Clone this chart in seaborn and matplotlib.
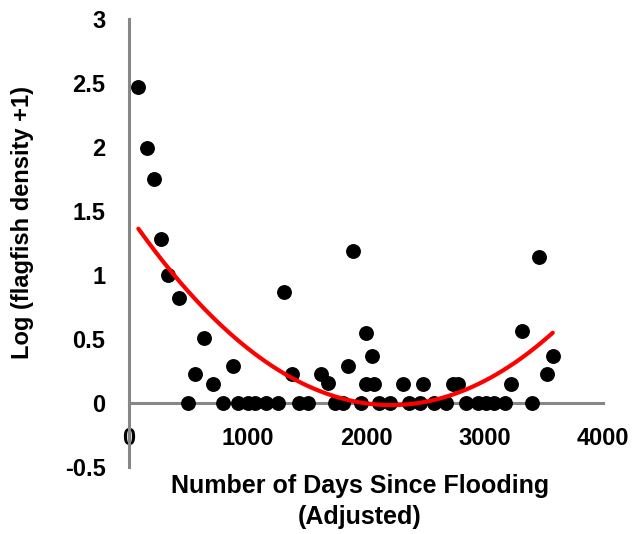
import numpy as np
import pandas as pd
import matplotlib
matplotlib.use("Agg")
import matplotlib.pyplot as plt
import seaborn as sns

days = [79, 155, 214, 270, 326, 422, 495, 560, 636, 706, 796, 881, 923, 1007,
        1063, 1154, 1260, 1308, 1378, 1437, 1513, 1620, 1677, 1739, 1809, 1851,
        1893, 1955, 2000, 2048, 2000, 2065, 2113, 2203, 2315, 2366, 2456, 2484,
        2574, 2675, 2732, 2779, 2844, 2943, 3013, 3083, 3173, 3224, 3320, 3404,
        3460, 3531, 3576]
log_density = [2.47, 1.99, 1.75, 1.28, 1.00, 0.82, 0.0, 0.227, 0.505, 0.148, 0.0,
               0.29, 0.0, 0.0, 0.0, 0.0, 0.0, 0.865, 0.227, 0.0, 0.0, 0.227, 0.153,
               0.0, 0.0, 0.29, 1.19, 0.0, 0.55, 0.37, 0.148, 0.148, 0.0, 0.0, 0.148,
               0.0, 0.0, 0.148, 0.0, 0.0, 0.148, 0.148, 0.0, 0.0, 0.0, 0.0, 0.0,
               0.148, 0.565, 0.0, 1.14, 0.227, 0.367]
x_ticks = [0, 1000, 2000, 3000, 4000]
y_ticks = [-0.5, 0, 0.5, 1, 1.5, 2, 2.5, 3]
y_tick_labels = ["-0.5", "0", "0.5", "1", "1.5", "2", "2.5", "3"]

sns.set_theme(style="white")
plt.rcParams["font.family"] = ["Liberation Sans", "DejaVu Sans"]
plt.rcParams["font.weight"] = "bold"
plt.rcParams["text.color"] = "black"
plt.rcParams["axes.labelcolor"] = "black"

df = pd.DataFrame({"days": days, "logd": log_density})

# quadratic trend line fitted on the data
coef = np.polyfit(df["days"], df["logd"], 2)
xs = np.linspace(min(days), max(days), 200)
trend = pd.DataFrame({"days": xs, "logd": np.polyval(coef, xs)})

fig = plt.figure(figsize=(6.36, 5.34), dpi=100)
ax = fig.add_axes([129 / 636, 1 - 467 / 534, 474 / 636, 448 / 534])

sns.scatterplot(data=df, x="days", y="logd", ax=ax, color="black", s=115,
                edgecolor="black", linewidth=0, zorder=3)
sns.lineplot(data=trend, x="days", y="logd", ax=ax, color="#ff0000",
             linewidth=3, zorder=4)

ax.set_xlim(0, 4000)
ax.set_ylim(-0.5, 3)
ax.set_xticks(x_ticks)
ax.set_xticklabels([str(t) for t in x_ticks])
ax.set_yticks(y_ticks)
ax.set_yticklabels(y_tick_labels)

gray = "#878787"
for side in ["top", "right"]:
    ax.spines[side].set_visible(False)
ax.spines["bottom"].set_position(("data", 0))
for side in ["left", "bottom"]:
    ax.spines[side].set_color(gray)
    ax.spines[side].set_linewidth(2.2)

ax.tick_params(axis="both", direction="out", color=gray, width=2, length=6,
               labelsize=17, labelcolor="black")
ax.tick_params(axis="x", pad=11)
ax.tick_params(axis="y", pad=11)
for lab in ax.get_xticklabels() + ax.get_yticklabels():
    lab.set_fontweight("bold")

ax.set_xlabel("Number of Days Since Flooding\n(Adjusted)", fontsize=18,
              fontweight="bold", linespacing=1.4, color="black")
ax.xaxis.set_label_coords(0.487, -0.015)
ax.set_ylabel("Log (flagfish density +1)", fontsize=17, fontweight="bold",
              color="black")
ax.yaxis.set_label_coords(-0.2, 0.545)

fig.savefig("out.png", dpi=100, facecolor="white")
